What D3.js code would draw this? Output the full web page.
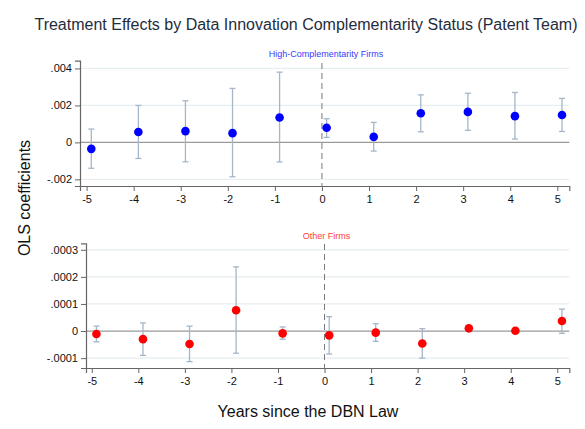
<!DOCTYPE html>
<html>
<head>
<meta charset="utf-8">
<script src="https://cdn.jsdelivr.net/npm/d3@7"></script>
<style>
  body { margin: 0; background: #fff; }
  svg text { font-family: "Liberation Sans", Arial, sans-serif; }
</style>
</head>
<body>
<script>
// event-time (plotted at year + 0.1)
const years = [-5, -4, -3, -2, -1, 0, 1, 2, 3, 4, 5];

// High-Complementarity Firms
const highCoef = [-0.00035, 0.00056, 0.00061, 0.0005, 0.00135, 0.00079, 0.0003, 0.00158, 0.00165, 0.00142, 0.00148];
const highLo   = [-0.0014, -0.00087, -0.00105, -0.00186, -0.00106, 0.00027, -0.00047, 0.00057, 0.00065, 0.00018, 0.00059];
const highHi   = [0.00072, 0.002, 0.00225, 0.00292, 0.0038, 0.00128, 0.00108, 0.00257, 0.00266, 0.0027, 0.00238];

// Other Firms
const otherCoef = [-0.000011, -0.00003, -0.000048, 0.000077, -0.0000085, -0.000016, -0.000006, -0.000046, 0.00001, 0.000001, 0.000037];
const otherLo   = [-0.00004, -0.00009, -0.000113, -0.000082, -0.00003, -0.000085, -0.000038, -0.0001, 0.000005, -0.000004, -0.0000085];
const otherHi   = [0.000018, 0.00003, 0.000018, 0.000237, 0.000015, 0.000053, 0.000027, 0.000009, 0.000015, 0.000006, 0.000081];

const highTicks = [-0.002, 0, 0.002, 0.004];
const otherTicks = [-0.0001, 0, 0.0001, 0.0002, 0.0003];

const W = 585, H = 429;
const svg = d3.select("body").append("svg").attr("width", W).attr("height", H);

// strip leading zero like Stata (.004, -.002)
function fmt(v) {
  if (Math.abs(v) < 1e-12) return "0";
  let s = String(+v.toPrecision(6));
  return s.replace(/^(-?)0\./, "$1.");
}

function panel(opt) {
  const x = d3.scaleLinear().domain(opt.xDomain).range([opt.left, opt.right]);
  const y = d3.scaleLinear().domain(opt.yDomain).range([opt.bottom, opt.top]);
  const g = svg.append("g");

  // gridlines
  g.selectAll("line.grid")
    .data(opt.ticks.filter(t => t !== 0))
    .enter().append("line")
    .attr("x1", opt.left).attr("x2", opt.right)
    .attr("y1", d => y(d)).attr("y2", d => y(d))
    .attr("stroke", "#e6eef1").attr("stroke-width", 1.2);

  // zero line
  g.append("line")
    .attr("x1", opt.left).attr("x2", opt.right)
    .attr("y1", y(0)).attr("y2", y(0))
    .attr("stroke", "#9a9a9a").attr("stroke-width", 1.3);

  // dashed vertical line at 0
  g.append("line")
    .attr("x1", x(0)).attr("x2", x(0))
    .attr("y1", opt.dashTop).attr("y2", opt.bottom)
    .attr("stroke", "#777").attr("stroke-width", 1)
    .attr("stroke-dasharray", "6,4");

  // axes
  const yAxis = d3.axisLeft(y).tickValues(opt.ticks).tickFormat(fmt).tickSize(5).tickPadding(3);
  const ya = g.append("g").attr("transform", `translate(${opt.left},0)`).call(yAxis);
  const xAxis = d3.axisBottom(x).tickValues(years).tickFormat(d3.format("d")).tickSize(5).tickPadding(4);
  const xa = g.append("g").attr("transform", `translate(0,${opt.bottom})`).call(xAxis);
  [ya, xa].forEach(a => {
    a.select(".domain").attr("stroke", "#666").attr("stroke-width", 1.2);
    a.selectAll(".tick line").attr("stroke", "#666");
    a.selectAll(".tick text").attr("fill", "#111").style("font-size", "11px")
      .style("font-family", "'Liberation Sans', Arial, sans-serif");
  });
  xa.selectAll(".tick text").text(d => d < 0 ? "-" + Math.abs(d) : d);

  // error bars
  const cap = 3;
  const eb = g.append("g").attr("stroke", "#a4b6c8").attr("stroke-width", 1.3);
  years.forEach((yr, i) => {
    const cx = x(yr + 0.1);
    eb.append("line").attr("x1", cx).attr("x2", cx).attr("y1", y(opt.lo[i])).attr("y2", y(opt.hi[i]));
    eb.append("line").attr("x1", cx - cap).attr("x2", cx + cap).attr("y1", y(opt.lo[i])).attr("y2", y(opt.lo[i]));
    eb.append("line").attr("x1", cx - cap).attr("x2", cx + cap).attr("y1", y(opt.hi[i])).attr("y2", y(opt.hi[i]));
  });

  // points
  g.selectAll("circle")
    .data(opt.coef)
    .enter().append("circle")
    .attr("cx", (d, i) => x(years[i] + 0.1))
    .attr("cy", d => y(d))
    .attr("r", 4.3)
    .attr("fill", opt.color);

  // subtitle
  g.append("text")
    .attr("x", x(0) + opt.labelDx).attr("y", opt.labelY)
    .attr("text-anchor", "middle")
    .style("font-size", "9px")
    .attr("fill", opt.labelColor)
    .text(opt.label);
}

panel({
  xDomain: [-5.14, 5.255], left: 80, right: 569.3,
  yDomain: [-0.00236, 0.00442], top: 60.7, bottom: 186,
  ticks: highTicks, coef: highCoef, lo: highLo, hi: highHi,
  color: "#0000ff", label: "High-Complementarity Firms", labelColor: "#3a3aff",
  labelY: 57, dashTop: 63, labelDx: 4
});

panel({
  xDomain: [-5.124, 5.258], left: 86, right: 569.3,
  yDomain: [-0.0001365, 0.000324], top: 243.3, bottom: 368,
  ticks: otherTicks, coef: otherCoef, lo: otherLo, hi: otherHi,
  color: "#ff0000", label: "Other Firms", labelColor: "#ff4040",
  labelY: 239, dashTop: 244, labelDx: 2
});

// title
svg.append("text")
  .attr("x", 306).attr("y", 30)
  .attr("text-anchor", "middle")
  .style("font-size", "16px")
  .attr("fill", "#1f2d3d")
  .text("Treatment Effects by Data Innovation Complementarity Status (Patent Team)");

// y label
svg.append("text")
  .attr("transform", "translate(30,198) rotate(-90)")
  .attr("text-anchor", "middle")
  .style("font-size", "16px")
  .attr("fill", "#111")
  .text("OLS coefficients");

// x label
svg.append("text")
  .attr("x", 308).attr("y", 417)
  .attr("text-anchor", "middle")
  .style("font-size", "16px")
  .attr("fill", "#111")
  .text("Years since the DBN Law");
</script>
</body>
</html>
